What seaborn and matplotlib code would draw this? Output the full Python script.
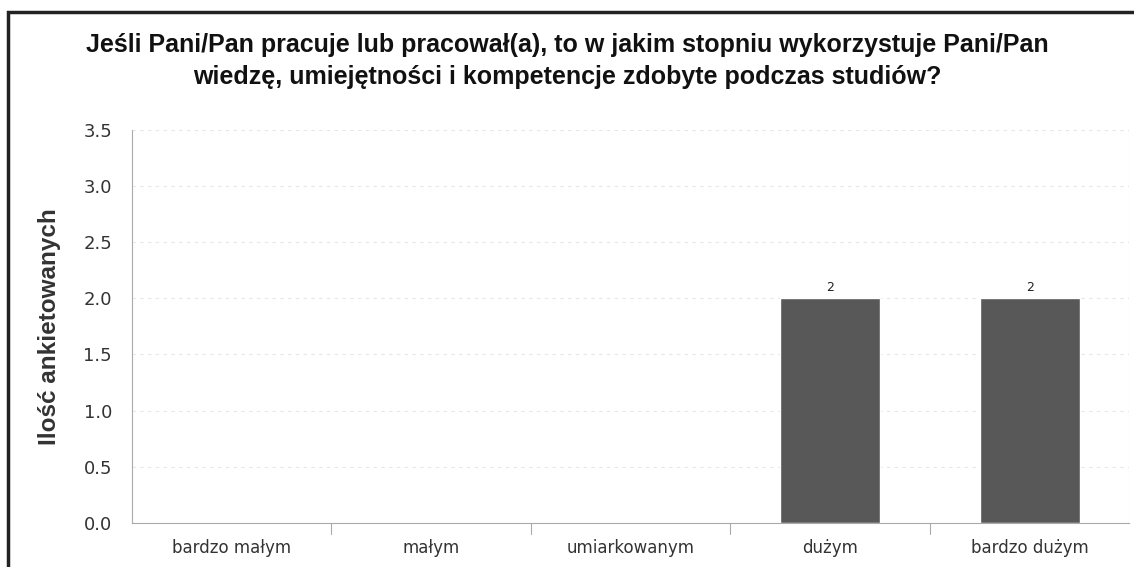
import pandas as pd
import numpy as np
import matplotlib.pyplot as plt
import seaborn as sns
from matplotlib.patches import Rectangle

kategorie = ['bardzo małym', 'małym', 'umiarkowanym', 'dużym', 'bardzo dużym']
liczba = [0, 0, 0, 2, 2]
etykiety_y = [0.0, 0.5, 1.0, 1.5, 2.0, 2.5, 3.0, 3.5]

df = pd.DataFrame({'kategoria': kategorie, 'liczba': liczba})

sns.set_style('white')
plt.rcParams['font.family'] = ['DejaVu Sans']

fig = plt.figure(figsize=(11.34, 5.67), dpi=100)
ax = fig.add_axes([0.116, 0.078, 0.88, 0.693])

sns.barplot(data=df, x='kategoria', y='liczba', color='#585858', width=0.5,
            saturation=1, ax=ax)

# etykiety nad słupkami (tylko niezerowe)
for i, v in enumerate(liczba):
    if v > 0:
        ax.text(i, v + 0.04, str(v), ha='center', va='bottom', fontsize=9, color='#222222')

ax.set_ylim(0, 3.5)
ax.set_xlim(-0.5, len(kategorie) - 0.5)
ax.set_yticks(etykiety_y)
ax.set_yticklabels([f'{t:.1f}' for t in etykiety_y], fontsize=13, color='#333333')
ax.tick_params(axis='x', labelsize=12, colors='#333333', length=0, pad=12)
ax.tick_params(axis='y', length=5, color='#bbbbbb', pad=9)
ax.set_xlabel('')
ax.set_ylabel('Ilość ankietowanych', fontsize=17.5, fontweight='bold', color='#333333',
              family=['Liberation Sans'], labelpad=16)
ax.grid(axis='y', color='#e6e6e6', linestyle=(0, (3, 4)), linewidth=0.8)
ax.set_axisbelow(True)

for s in ['top', 'right']:
    ax.spines[s].set_visible(False)
ax.spines['left'].set_color('#aaaaaa')
ax.spines['bottom'].set_color('#aaaaaa')
ax.spines['left'].set_linewidth(0.8)
ax.spines['bottom'].set_linewidth(0.8)
ax.axvline(len(kategorie) - 0.5, color='#dddddd', linewidth=0.8)

# kreski między kategoriami pod osią
for b in np.arange(0.5, len(kategorie) - 0.5, 1):
    ax.plot([b, b], [0, -0.1], color='#aaaaaa', linewidth=0.8, clip_on=False)

fig.text(0.5, 0.892,
         'Jeśli Pani/Pan pracuje lub pracował(a), to w jakim stopniu wykorzystuje Pani/Pan\n'
         'wiedzę, umiejętności i kompetencje zdobyte podczas studiów?',
         ha='center', va='center', fontsize=18, fontweight='bold', color='#111111',
         family=['Liberation Sans'], linespacing=1.4)

# ramka wykresu
fig.patches.append(Rectangle((0.007, -0.05), 1.1, 1.029, transform=fig.transFigure,
                             fill=False, edgecolor='#222222', linewidth=2.5))

plt.savefig('out.png', dpi=100)
